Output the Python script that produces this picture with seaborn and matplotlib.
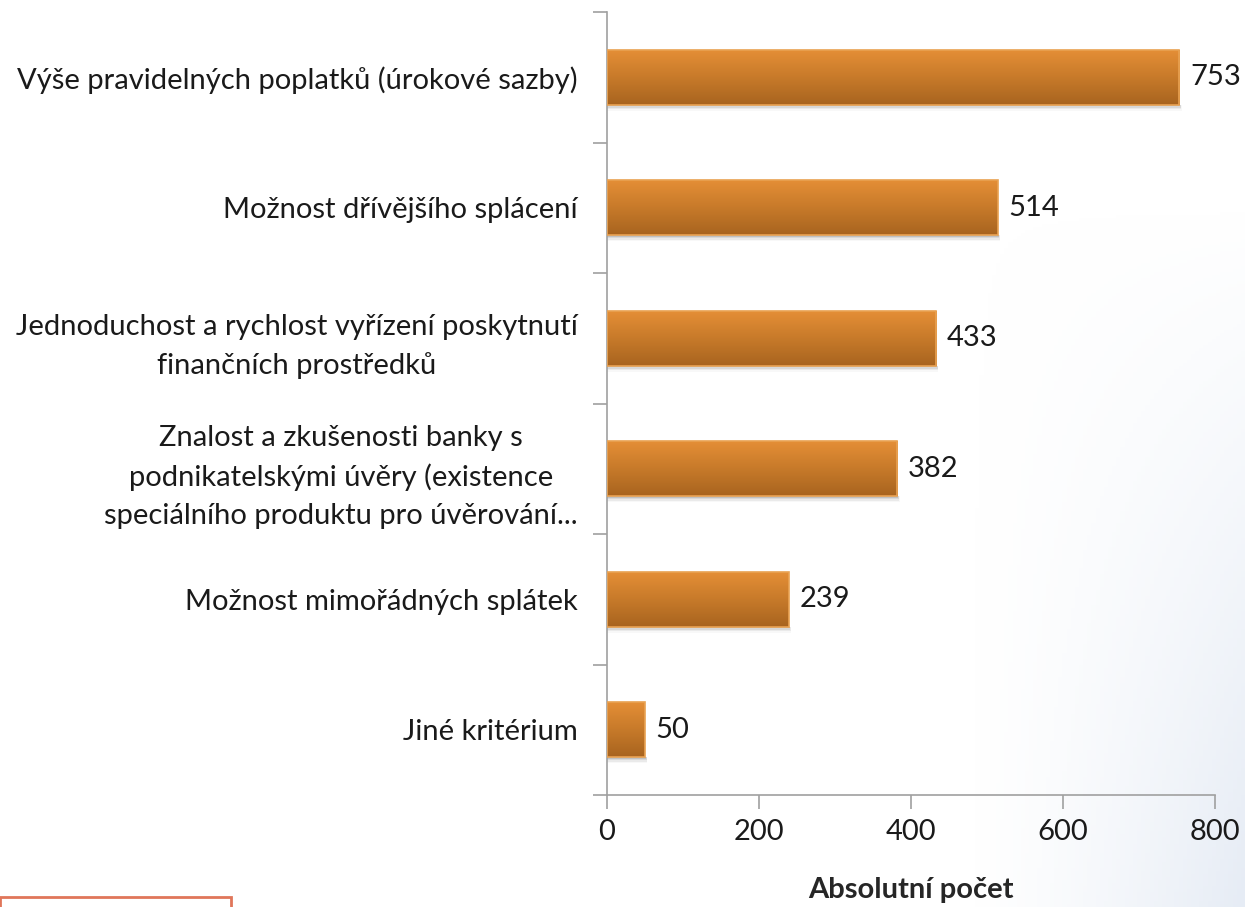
import numpy as np
import pandas as pd
import matplotlib.pyplot as plt
import seaborn as sns
from matplotlib.colors import LinearSegmentedColormap
from matplotlib.patches import Rectangle

# data
kriteria = [
    "Výše pravidelných poplatků (úrokové sazby)",
    "Možnost dřívějšího splácení",
    "Jednoduchost a rychlost vyřízení poskytnutí\nfinančních prostředků",
    "Znalost a zkušenosti banky s\npodnikatelskými úvěry (existence\nspeciálního produktu pro úvěrování...",
    "Možnost mimořádných splátek",
    "Jiné kritérium",
]
pocet = [753, 514, 433, 382, 239, 50]
x_ticks = [0, 200, 400, 600, 800]

df = pd.DataFrame({"kriterium": kriteria, "pocet": pocet})

sns.set_style("white")
plt.rcParams["font.family"] = ["Lato", "DejaVu Sans"]
fs = 21

fig = plt.figure(figsize=(12.45, 9.07), dpi=100)

# jemne pozadi vpravo dole
bg = fig.add_axes([0, 0, 1, 1], zorder=-10)
gx, gy = np.meshgrid(np.linspace(0, 1, 300), np.linspace(0, 1, 300))
glow = np.clip((gx - 0.78) / 0.22, 0, 1) ** 1.3 * np.clip(1.0 - gy * 1.3, 0, 1)
bg_cmap = LinearSegmentedColormap.from_list("bg", ["#ffffff", "#e6ecf5"])
bg.imshow(glow, cmap=bg_cmap, extent=[0, 1, 0, 1], aspect="auto", vmin=0, vmax=1,
          origin="lower")
bg.set_axis_off()

ax = fig.add_axes([607 / 1245, 1 - 795 / 907, (1215 - 607) / 1245, (795 - 12) / 907])
ax.patch.set_alpha(0)

sns.barplot(data=df, x="pocet", y="kriterium", orient="h", color="#d27d2c",
            width=0.42, edgecolor="#e9a252", linewidth=1.2, ax=ax)

ax.set_xlim(0, 800)
ax.set_ylim(5.5, -0.5)

# gradient + stin na sloupcich
grad_cmap = LinearSegmentedColormap.from_list("bar", ["#e48e36", "#c77a2a", "#a8641f"])
grad = np.linspace(0, 1, 100).reshape(-1, 1)
for p in ax.patches:
    x0, y0 = p.get_x(), p.get_y()
    w, h = p.get_width(), p.get_height()
    for k, a in zip(range(1, 5), [0.18, 0.12, 0.08, 0.04]):
        ax.add_patch(Rectangle((x0, y0 + h), w + 1 + k * 0.5, 0.012 * k,
                               color="#555555", alpha=a, lw=0, zorder=1))
    im = ax.imshow(grad, cmap=grad_cmap, aspect="auto",
                   extent=[x0, x0 + w, y0 + h, y0], zorder=2)
    im.set_clip_path(p)
    p.set_zorder(3)
    p.set_facecolor("none")

for i, v in enumerate(pocet):
    ax.text(v + 14, i, str(v), va="center", ha="left", fontsize=fs, color="#1a1a1a")

ax.set_xticks(x_ticks)
ax.set_xticklabels([str(t) for t in x_ticks], fontsize=fs, color="#1a1a1a")
ax.set_yticks(range(len(kriteria)))
ax.set_yticklabels(kriteria, fontsize=fs, color="#1a1a1a", ha="right",
                   multialignment="center", linespacing=1.55)
ax.set_yticks(np.arange(-0.5, 6, 1), minor=True)
ax.tick_params(axis="y", which="major", left=False, length=0, pad=21)
ax.tick_params(axis="y", which="minor", left=True, length=10, color="#a0a0a0", width=1.2)
ax.tick_params(axis="x", which="major", bottom=True, length=10, color="#a0a0a0", width=1.2, pad=7)

ax.set_ylabel("")
ax.set_xlabel("Absolutní počet", fontsize=fs, fontweight="bold", labelpad=23)

ax.spines["top"].set_visible(False)
ax.spines["right"].set_visible(False)
for s in ["left", "bottom"]:
    ax.spines[s].set_color("#a0a0a0")
    ax.spines[s].set_linewidth(1.2)

# cerveny ramecek vlevo dole
fig.patches.append(Rectangle((0, -0.01), 231 / 1245, 0.021, transform=fig.transFigure,
                             fill=False, edgecolor="#e0765a", lw=2))

fig.savefig("out.png", dpi=100)
